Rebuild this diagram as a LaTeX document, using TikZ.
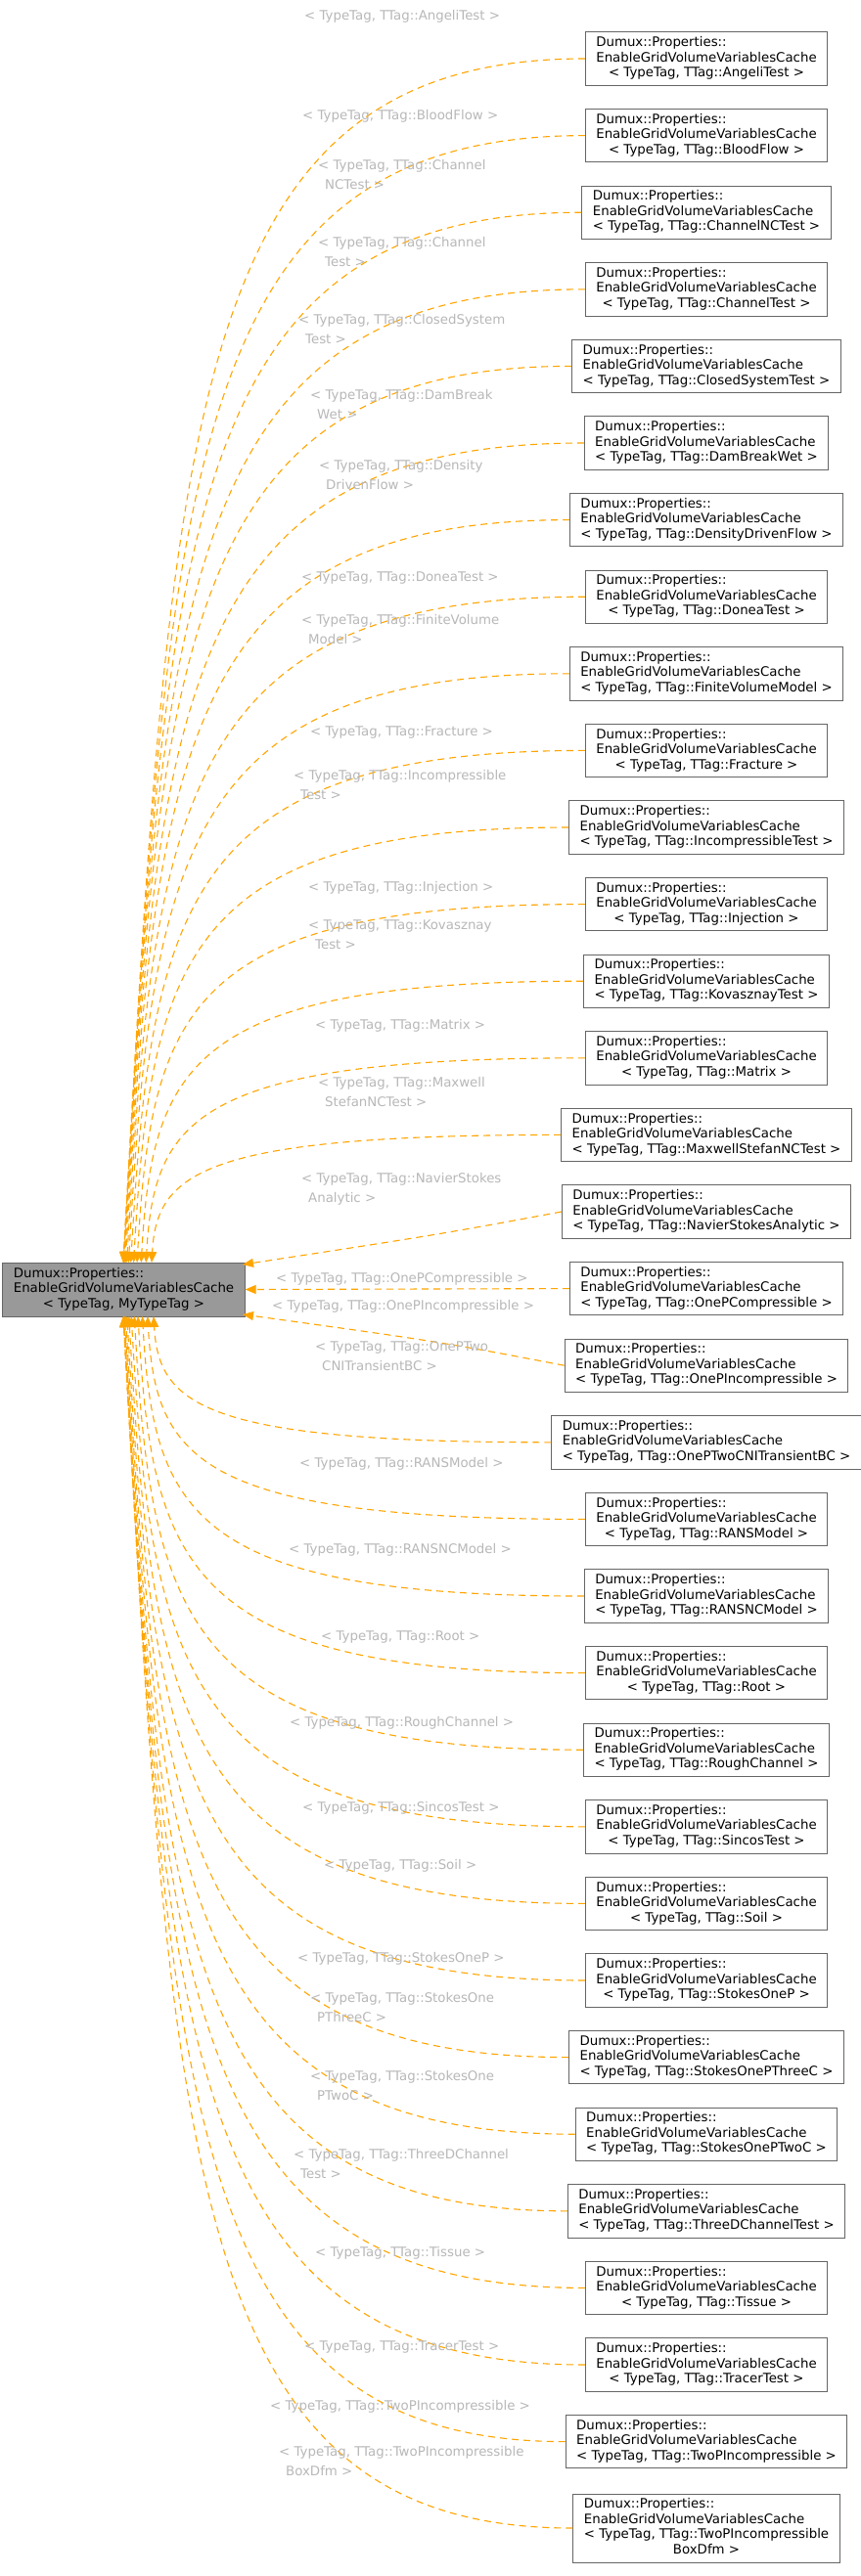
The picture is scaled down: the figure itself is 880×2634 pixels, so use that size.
\documentclass[tikz,border=0pt]{standalone}
\usepackage{fontspec}
\setmainfont{DejaVu Sans}
\usetikzlibrary{arrows.meta}
\definecolor{edgeor}{HTML}{FFA500}
\definecolor{lblgray}{HTML}{B8B8B8}
\definecolor{bordgray}{HTML}{666666}
\definecolor{boxgray}{HTML}{999999}
\newcommand\bxtext[1]{\begin{tabular}{@{}l@{}}Dumux::Properties::\\EnableGridVolumeVariablesCache\\\multicolumn{1}{@{}c@{}}{#1}\end{tabular}}
\begin{document}
\begin{tikzpicture}[x=1pt,y=-1pt,
  rbox/.style={draw=bordgray,line width=0.9pt,fill=white,inner xsep=11pt,inner ysep=4pt,font=\fontsize{13.33}{15.5}\selectfont},
  lbox/.style={rbox,fill=boxgray},
  lbl/.style={anchor=base west,inner sep=0pt,align=left,text=lblgray,font=\fontsize{13.33}{20}\selectfont},
  edge/.style={draw=edgeor,line width=1.1pt,dash pattern=on 7pt off 5pt,-{Triangle[length=11pt,width=9pt]}}]
\useasboundingbox (0,0) rectangle (880,2634);
\fill[white] (0,0) rectangle (880,2634);
\node[lbox,minimum width=243pt,minimum height=55pt] (L) at (126.5,1318.5) {\bxtext{< TypeTag, MyTypeTag >}};
\foreach \i/\y/\t in {1/60/AngeliTest,2/138.6/BloodFlow,3/217.2/ChannelNCTest,4/295.8/ChannelTest,5/374.4/ClosedSystemTest,6/453/DamBreakWet,7/531.6/DensityDrivenFlow,8/610.2/DoneaTest,9/688.8/FiniteVolumeModel,10/767.4/Fracture,11/846/IncompressibleTest,12/924.6/Injection,13/1003.2/KovasznayTest,14/1081.8/Matrix,15/1160.4/MaxwellStefanNCTest,16/1239/NavierStokesAnalytic,17/1317.6/OnePCompressible,18/1396.2/OnePIncompressible,19/1474.8/OnePTwoCNITransientBC,20/1553.4/RANSModel,21/1632/RANSNCModel,22/1710.6/Root,23/1789.2/RoughChannel,24/1867.8/SincosTest,25/1946.4/Soil,26/2025/StokesOneP,27/2103.6/StokesOnePThreeC,28/2182.2/StokesOnePTwoC,29/2260.8/ThreeDChannelTest,30/2339.4/Tissue,31/2418/TracerTest,32/2496.6/TwoPIncompressible}
  {\node[rbox] (n\i) at (722,\y) {\bxtext{< TypeTag, TTag::\t{} >}};}
\node[rbox] (n33) at (722,2585) {\begin{tabular}{@{}l@{}}Dumux::Properties::\\EnableGridVolumeVariablesCache\\< TypeTag, TTag::TwoPIncompressible\\\multicolumn{1}{@{}c@{}}{BoxDfm >}\end{tabular}};
% top edges
\foreach \i/\y in {1/60,2/138.6,3/217.2,4/295.8,5/374.4,6/453,7/531.6,8/610.2,9/688.8,10/767.4,11/846,12/924.6,13/1003.2,14/1081.8,15/1160.4}{
  \pgfmathsetmacro\xe{126+29*((\i-1)/14)^3}
  \pgfmathsetmacro\d{1291-\y}
  \draw[edge] (n\i.west) .. controls ({max(190,\xe+50)},\y) and ({\xe+0.04*\d},{\y+0.3*\d}) .. (\xe,1291);
}
% bottom edges
\foreach \i/\y in {19/1474.8,20/1553.4,21/1632,22/1710.6,23/1789.2,24/1867.8,25/1946.4,26/2025,27/2103.6,28/2182.2,29/2260.8,30/2339.4,31/2418,32/2496.6,33/2585}{
  \pgfmathsetmacro\xe{126+31*((33-\i)/14)^3}
  \pgfmathsetmacro\d{\y-1346}
  \draw[edge] (n\i.west) .. controls ({max(190,\xe+50)},\y) and ({\xe+0.04*\d},{\y-0.3*\d}) .. (\xe,1346);
}
\coordinate (e16) at (248,1293);
\coordinate (e18) at (248,1344);
\draw[edge] (n16.west) .. controls (450,1262) .. (e16);
\draw[edge] (n17.west) -- (L.east);
\draw[edge] (n18.west) .. controls (450,1372) .. (e18);
% labels
\foreach \x/\y/\t in {311/16/{< TypeTag, TTag::AngeliTest >},309/118/{< TypeTag, TTag::BloodFlow >},
 325/189/{< TypeTag, TTag::Channel\\\hspace{7pt}NCTest >},325/268/{< TypeTag, TTag::Channel\\\hspace{7pt}Test >},
 305/347/{< TypeTag, TTag::ClosedSystem\\\hspace{7pt}Test >},317/424/{< TypeTag, TTag::DamBreak\\\hspace{7pt}Wet >},
 326/496/{< TypeTag, TTag::Density\\\hspace{7pt}DrivenFlow >},308/590/{< TypeTag, TTag::DoneaTest >},
 308/654/{< TypeTag, TTag::FiniteVolume\\\hspace{7pt}Model >},317/748/{< TypeTag, TTag::Fracture >},
 300/813/{< TypeTag, TTag::Incompressible\\\hspace{7pt}Test >},315/907/{< TypeTag, TTag::Injection >},
 315/966/{< TypeTag, TTag::Kovasznay\\\hspace{7pt}Test >},322/1048/{< TypeTag, TTag::Matrix >},
 325/1127/{< TypeTag, TTag::Maxwell\\\hspace{7pt}StefanNCTest >},308/1225/{< TypeTag, TTag::NavierStokes\\\hspace{7pt}Analytic >},
 282/1307/{< TypeTag, TTag::OnePCompressible >},278/1335/{< TypeTag, TTag::OnePIncompressible >},
 322/1397/{< TypeTag, TTag::OnePTwo\\\hspace{7pt}CNITransientBC >},306/1496/{< TypeTag, TTag::RANSModel >},
 295/1584/{< TypeTag, TTag::RANSNCModel >},328/1673/{< TypeTag, TTag::Root >},
 296/1761/{< TypeTag, TTag::RoughChannel >},309/1848/{< TypeTag, TTag::SincosTest >},
 331/1907/{< TypeTag, TTag::Soil >},304/2002/{< TypeTag, TTag::StokesOneP >},
 317/2063/{< TypeTag, TTag::StokesOne\\\hspace{7pt}PThreeC >},317/2143/{< TypeTag, TTag::StokesOne\\\hspace{7pt}PTwoC >},
 300/2223/{< TypeTag, TTag::ThreeDChannel\\\hspace{7pt}Test >},322/2303/{< TypeTag, TTag::Tissue >},
 311/2399/{< TypeTag, TTag::TracerTest >},276/2460/{< TypeTag, TTag::TwoPIncompressible >},
 285/2527/{< TypeTag, TTag::TwoPIncompressible\\\hspace{7pt}BoxDfm >}}
 {\node[lbl] at (\x,\y+4.5) {\t};}
\end{tikzpicture}
\end{document}
